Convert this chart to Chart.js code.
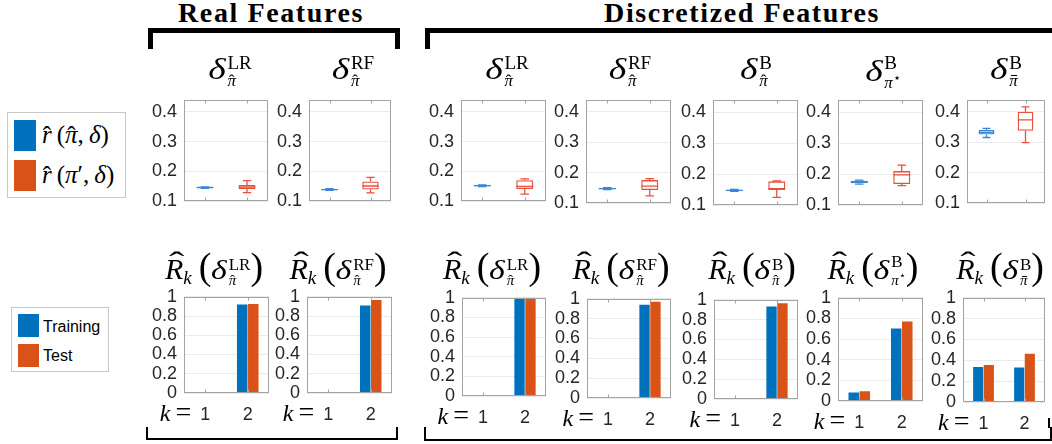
<!DOCTYPE html>
<html>
<head>
<meta charset="utf-8">
<script src="https://cdn.jsdelivr.net/npm/chart.js@4.4.0/dist/chart.umd.min.js"></script>
<style>
body{margin:0;background:#fff;width:1052px;height:444px;overflow:hidden;position:relative;font-family:"Liberation Serif",serif;color:#000}
.abs{position:absolute}
.head{position:absolute;font-weight:bold;font-size:28px;letter-spacing:1.6px;line-height:1;white-space:nowrap;transform:translateX(-50%)}
.ttl{position:absolute;white-space:nowrap;line-height:1;transform:translateX(-50%)}
.ss{display:inline-block;line-height:1;margin-left:1px;text-align:left}
.sp{display:block;font-style:normal}
.sb{display:block;font-style:italic}
.dl{display:inline-block;font-style:italic;transform:scaleX(1.25);transform-origin:left;margin-right:0.14em}
.hat,.hatU,.bar{position:relative;display:inline-block;font-style:italic}
.hat::after{content:"ˆ";position:absolute;left:0;right:0;text-align:center;top:0.02em;font-style:normal}
.hatU::after{content:"ˆ";position:absolute;left:0.15em;right:0;text-align:center;top:-0.22em;font-style:normal;transform:scaleX(1.5)}
.bar::after{content:"";position:absolute;left:0.12em;right:0.05em;top:0.2em;border-top:1.2px solid #000}
.star{font-size:0.75em;vertical-align:0.5em;font-style:normal}
.paren{font-style:normal}
.legend{position:absolute;border:1px solid #c8c8c8;background:#fff}
.sw{position:absolute}
.lt{position:absolute;white-space:nowrap;line-height:1}
.brk{position:absolute;border-color:#000;border-style:solid}
</style>
</head>
<body>
<div class="head" style="left:271px;top:-1px">Real Features</div>
<div class="head" style="left:742px;top:-1px">Discretized Features</div>
<div class="brk" style="left:148px;top:28px;width:242px;height:16px;border-width:5px 5px 0 5px"></div>
<div class="brk" style="left:425px;top:28px;width:630px;height:16px;border-width:5px 5px 0 5px"></div>
<div class="brk" style="left:146px;top:427px;width:248px;height:11px;border-width:0 2px 2px 2px"></div>
<div class="brk" style="left:424px;top:427px;width:624px;height:12px;border-width:0 2px 2px 2px"></div>
<div class="brk" style="left:1048px;top:418px;width:0;height:10px;border-width:0 0 0 2px"></div>

<div class="legend" style="left:7px;top:112px;width:117px;height:84px">
  <div class="sw" style="left:6px;top:7px;width:22px;height:31px;background:#0072BD"></div>
  <div class="sw" style="left:6px;top:47px;width:22px;height:31px;background:#D95319"></div>
  <div class="lt" style="left:34px;top:9px;font-size:25px"><span class="hat">r</span>&thinsp;(<span class="hat">π</span>,&thinsp;<i>δ</i>)</div>
  <div class="lt" style="left:34px;top:49px;font-size:25px"><span class="hat">r</span>&thinsp;(<i>π</i>′,&thinsp;<i>δ</i>)</div>
</div>
<div class="legend" style="left:11px;top:307px;width:96px;height:63px">
  <div class="sw" style="left:6px;top:6px;width:21px;height:23px;background:#0072BD"></div>
  <div class="sw" style="left:6px;top:36px;width:21px;height:23px;background:#D95319"></div>
  <div class="lt" style="left:31px;top:11px;font-size:16px;font-family:'Liberation Sans',sans-serif">Training</div>
  <div class="lt" style="left:31px;top:40px;font-size:16px;font-family:'Liberation Sans',sans-serif">Test</div>
</div>

<script>
// estimator labels: superscript and the policy marker under the delta
const methodSup = ['LR', 'RF', 'LR', 'RF', 'B', 'B', 'B'];
const methodSub = ['hat', 'hat', 'hat', 'hat', 'hat', 'star', 'bar'];

// boxplot stats per panel: [low whisker, q1, median, q3, high whisker]
const trainBoxes = [
  [0.143, 0.144, 0.146, 0.147, 0.148],
  [0.136, 0.137, 0.139, 0.141, 0.142],
  [0.149, 0.150, 0.152, 0.154, 0.155],
  [0.145, 0.146, 0.148, 0.150, 0.151],
  [0.145, 0.146, 0.148, 0.150, 0.151],
  [0.168, 0.171, 0.175, 0.179, 0.181],
  [0.316, 0.326, 0.333, 0.341, 0.346]
];
const testBoxes = [
  [0.129, 0.141, 0.147, 0.154, 0.169],
  [0.128, 0.139, 0.151, 0.166, 0.180],
  [0.124, 0.141, 0.150, 0.170, 0.175],
  [0.124, 0.143, 0.156, 0.176, 0.181],
  [0.125, 0.149, 0.153, 0.177, 0.178],
  [0.163, 0.168, 0.198, 0.210, 0.229],
  [0.299, 0.338, 0.374, 0.401, 0.417]
];

// R_k for k = 1, 2
const kLabels = ['1', '2'];
const trainRates = [
  [0.010, 0.920],
  [0.003, 0.910],
  [0.000, 1.000],
  [0.008, 0.940],
  [0.007, 0.933],
  [0.083, 0.703],
  [0.336, 0.330]
];
const testRates = [
  [0.010, 0.926],
  [0.010, 0.967],
  [0.000, 1.000],
  [0.010, 0.971],
  [0.010, 0.965],
  [0.095, 0.771],
  [0.355, 0.464]
];

const boxTicks = [0.1, 0.2, 0.3, 0.4];
const rateTicks = [0, 0.2, 0.4, 0.6, 0.8, 1];

// axes boxes [left, top, width, height]
const topAxes = [
  [184, 94, 84, 113], [309, 94, 82, 113], [461, 94, 85, 113], [586, 94, 85, 115],
  [713, 94, 85, 117], [838, 94, 85, 117], [967, 94, 78, 115]
];
const botAxes = [
  [184, 291, 85, 102], [307, 291, 85, 102], [462, 292, 84, 104], [587, 293, 84, 105],
  [714, 294, 84, 105], [838, 292, 85, 109], [963, 292, 82, 110]
];
const topTitleX = [230, 353, 507, 630, 756, 883, 1006];
const botTitleX = [214, 338, 492, 621, 752, 873, 1000];

const BLUE = '#0072BD', RED = '#D95319';
const BOX_BLUE = '#3a85d5', BOX_RED = '#e8503c';
const YW = 40, PAD = 12, XH = 34;
const tickFont = { family: 'Liberation Sans', size: 18 };

function subHTML(kind) {
  if (kind === 'hat') return '<span class="hat">π</span>';
  if (kind === 'bar') return '<span class="bar">π</span>';
  return 'π<span class="star">⋆</span>';
}

function deltaHTML(i, dSize, supSize, subSize, drop) {
  return '<i class="dl" style="font-size:' + dSize + 'px">δ</i>' +
    '<span class="ss" style="vertical-align:-' + drop + 'px"><span class="sp" style="font-size:' + supSize + 'px">' +
    methodSup[i] + '</span><span class="sb" style="font-size:' + subSize + 'px">' + subHTML(methodSub[i]) + '</span></span>';
}

function addTitle(html, x, y) {
  const d = document.createElement('div');
  d.className = 'ttl';
  d.style.left = x + 'px';
  d.style.top = y + 'px';
  d.innerHTML = html;
  document.body.appendChild(d);
}

function makeCanvas(box, bottomSpace, bottomPad) {
  const [l, t, w, h] = box;
  const div = document.createElement('div');
  div.className = 'abs';
  div.style.left = (l - YW) + 'px';
  div.style.top = (t - PAD) + 'px';
  div.style.width = (w + YW + PAD) + 'px';
  div.style.height = (h + PAD + bottomSpace + bottomPad) + 'px';
  const c = document.createElement('canvas');
  div.appendChild(c);
  document.body.appendChild(div);
  return c;
}

// MATLAB style full box around the axes with small inner ticks at categories
const frame = {
  id: 'frame',
  afterDraw(chart) {
    const { ctx, chartArea: a } = chart;
    const l = Math.round(a.left) + 0.5, t = Math.round(a.top) + 0.5;
    const r = Math.round(a.right) - 0.5, b = Math.round(a.bottom) - 0.5;
    ctx.save();
    ctx.strokeStyle = '#a3a3a3';
    ctx.lineWidth = 1;
    ctx.strokeRect(l, t, r - l, b - t);
    const x = chart.scales.x;
    ctx.beginPath();
    x.ticks.forEach((tk, i) => {
      const px = Math.round(x.getPixelForTick(i)) + 0.5;
      ctx.moveTo(px, t); ctx.lineTo(px, t + 3);
      ctx.moveTo(px, b); ctx.lineTo(px, b - 3);
    });
    ctx.stroke();
    ctx.restore();
  }
};

// whiskers, caps and medians for the floating-bar boxes
const whiskers = {
  id: 'whiskers',
  afterDatasetsDraw(chart) {
    const ds = chart.data.datasets[0];
    if (!ds.stats) return;
    const y = chart.scales.y;
    const ctx = chart.ctx;
    chart.getDatasetMeta(0).data.forEach((bar, i) => {
      const [lo, q1, med, q3, hi] = ds.stats[i];
      const x = bar.x, hw = bar.width / 2, cw = bar.width / 4;
      ctx.save();
      ctx.strokeStyle = ds.borderColor[i];
      ctx.lineWidth = 1.3;
      ctx.beginPath();
      ctx.moveTo(x, y.getPixelForValue(q3)); ctx.lineTo(x, y.getPixelForValue(hi));
      ctx.moveTo(x, y.getPixelForValue(q1)); ctx.lineTo(x, y.getPixelForValue(lo));
      ctx.moveTo(x - cw, y.getPixelForValue(hi)); ctx.lineTo(x + cw, y.getPixelForValue(hi));
      ctx.moveTo(x - cw, y.getPixelForValue(lo)); ctx.lineTo(x + cw, y.getPixelForValue(lo));
      ctx.moveTo(x - hw, y.getPixelForValue(med)); ctx.lineTo(x + hw, y.getPixelForValue(med));
      ctx.stroke();
      ctx.restore();
    });
  }
};

// "k =" in front of the first category label, on the digits' baseline
const kPrefix = {
  id: 'kPrefix',
  afterDraw(chart) {
    const x = chart.scales.x;
    if (!x.options.display) return;
    const ctx = chart.ctx;
    const px = x.getPixelForTick(0) - 14;
    const py = chart.chartArea.bottom + 28;
    ctx.save();
    ctx.fillStyle = '#000';
    ctx.textBaseline = 'alphabetic';
    ctx.textAlign = 'right';
    ctx.font = '28px "Liberation Serif"';
    ctx.fillText('=', px, py);
    const eq = ctx.measureText('=').width;
    ctx.font = 'italic 24px "Liberation Serif"';
    ctx.fillText('k', px - eq - 5, py);
    ctx.restore();
  }
};

function yScale(min, max, ticks) {
  return {
    min, max,
    afterBuildTicks: s => { s.ticks = ticks.map(v => ({ value: v })); },
    afterFit: s => { s.width = YW; },
    grid: { color: '#ebebeb', drawTicks: false },
    border: { display: false },
    ticks: { padding: 7, autoSkip: false, color: '#262626', font: tickFont, callback: v => String(v) }
  };
}

function baseOptions(bottomPad) {
  return {
    responsive: true,
    maintainAspectRatio: false,
    animation: false,
    events: [],
    layout: { padding: { top: PAD, right: PAD, left: 0, bottom: bottomPad } },
    plugins: { legend: { display: false }, tooltip: { enabled: false } }
  };
}

for (let i = 0; i < 7; i++) {
  // top row: box plots of r-hat
  const stats = [trainBoxes[i], testBoxes[i]];
  new Chart(makeCanvas(topAxes[i], 0, PAD), {
    type: 'bar',
    data: {
      labels: kLabels,
      datasets: [{
        data: stats.map(s => [s[1], s[3]]),
        stats,
        borderColor: [BOX_BLUE, BOX_RED],
        backgroundColor: 'rgba(0,0,0,0)',
        borderWidth: 1.3,
        borderSkipped: false,
        barPercentage: 0.4,
        categoryPercentage: 1
      }]
    },
    options: {
      ...baseOptions(PAD),
      scales: {
        x: { display: false, offset: true },
        y: yScale(0.1, 0.44, boxTicks)
      }
    },
    plugins: [whiskers, frame]
  });

  // bottom row: R_k bars
  new Chart(makeCanvas(botAxes[i], XH, 0), {
    type: 'bar',
    data: {
      labels: kLabels,
      datasets: [
        { label: 'Training', data: trainRates[i], backgroundColor: BLUE, barPercentage: 0.95, categoryPercentage: 0.52 },
        { label: 'Test', data: testRates[i], backgroundColor: RED, barPercentage: 0.95, categoryPercentage: 0.52 }
      ]
    },
    options: {
      ...baseOptions(0),
      scales: {
        x: {
          offset: true,
          afterFit: s => { s.height = XH; },
          grid: { display: false, drawTicks: false },
          border: { display: false },
          ticks: { padding: 11, color: '#262626', font: tickFont }
        },
        y: yScale(0, 1, rateTicks)
      }
    },
    plugins: [frame, kPrefix]
  });

  addTitle(deltaHTML(i, 30, 19, 17, 7), topTitleX[i], 53);
  addTitle('<span class="hatU" style="font-size:30px">R</span><i style="font-size:19px;vertical-align:-5px">k</i>' +
    '<span class="paren" style="font-size:38px;margin-left:7px">(</span>' + deltaHTML(i, 27, 17, 15, 6) +
    '<span class="paren" style="font-size:38px">)</span>', botTitleX[i], 247);
}
</script>
</body>
</html>
